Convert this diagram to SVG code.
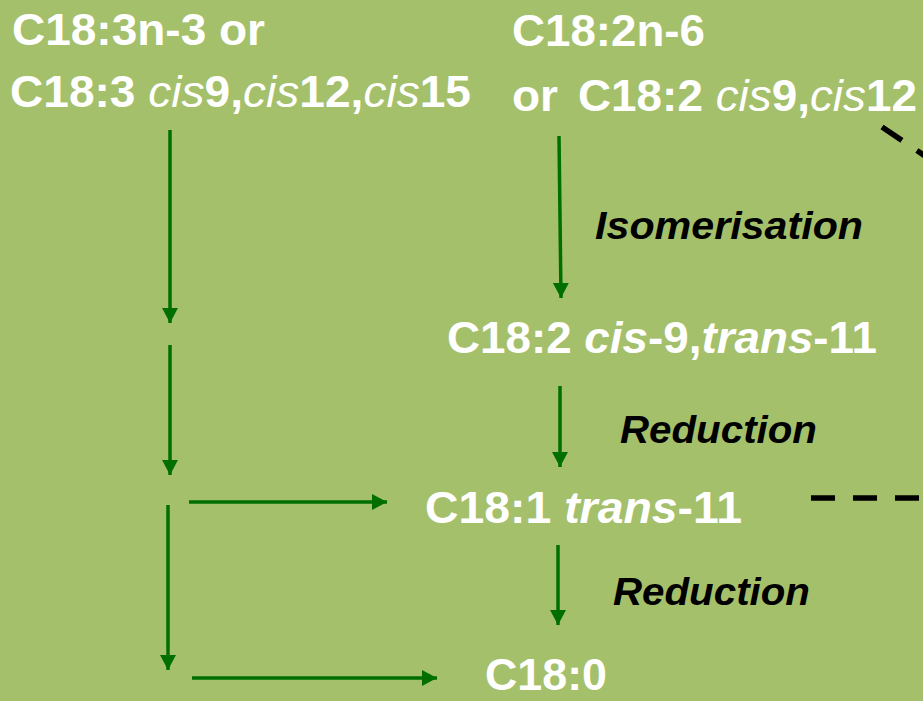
<svg xmlns="http://www.w3.org/2000/svg" width="923" height="701" viewBox="0 0 923 701">
<style>
.w{fill:#fff;font-family:"Liberation Sans",Arial,sans-serif;font-weight:bold;font-size:45px}
.it{font-style:italic}
.nb{font-weight:normal}
.k{fill:#000;font-family:"Liberation Sans",Arial,sans-serif;font-weight:bold;font-style:italic;font-size:39px}
.a{stroke:#006E00;stroke-width:3.5;fill:none;marker-end:url(#ah)}
.d{stroke:#000;stroke-width:5.5;fill:none;stroke-dasharray:24 18}
</style>
<defs>
<marker id="ah" markerUnits="userSpaceOnUse" markerWidth="17" markerHeight="17" refX="15" refY="8" orient="auto" viewBox="0 0 17 17">
<path d="M0,0 L15,8 L0,16 z" fill="#006E00"/>
</marker>
</defs>
<rect width="923" height="701" fill="#A5C06B"/>
<g id="n-c183">
<text class="w" x="12" y="45" textLength="253" lengthAdjust="spacingAndGlyphs">C18:3n-3 or</text>
<text class="w" x="10" y="107" textLength="461" lengthAdjust="spacingAndGlyphs">C18:3 <tspan class="it nb">cis</tspan>9,<tspan class="it nb">cis</tspan>12,<tspan class="it nb">cis</tspan>15</text>
</g>
<g id="n-c182">
<text class="w" x="512" y="46" textLength="193" lengthAdjust="spacingAndGlyphs">C18:2n-6</text>
<text class="w" x="512" y="111" textLength="46" lengthAdjust="spacingAndGlyphs">or</text>
<text class="w" x="578" y="111" textLength="339" lengthAdjust="spacingAndGlyphs">C18:2 <tspan class="it nb">cis</tspan>9,<tspan class="it nb">cis</tspan>12</text>
</g>
<g id="n-cla">
<text class="w" x="447" y="353" textLength="430" lengthAdjust="spacingAndGlyphs">C18:2 <tspan class="it">cis</tspan>-9,<tspan class="it">trans</tspan>-11</text>
</g>
<g id="n-va">
<text class="w" x="425" y="523" textLength="317" lengthAdjust="spacingAndGlyphs">C18:1 <tspan class="it">trans</tspan>-11</text>
</g>
<g id="n-c180">
<text class="w" x="485" y="690" textLength="122" lengthAdjust="spacingAndGlyphs">C18:0</text>
</g>
<g id="labels">
<text class="k" x="595" y="239" textLength="268" lengthAdjust="spacingAndGlyphs">Isomerisation</text>
<text class="k" x="620" y="443" textLength="197" lengthAdjust="spacingAndGlyphs">Reduction</text>
<text class="k" x="613" y="605" textLength="197" lengthAdjust="spacingAndGlyphs">Reduction</text>
</g>
<g id="connectors">
<line class="a" x1="170" y1="130" x2="170" y2="323"/>
<line class="a" x1="170" y1="345" x2="170" y2="475"/>
<line class="a" x1="168" y1="505" x2="168" y2="670"/>
<line class="a" x1="189" y1="502" x2="387" y2="502"/>
<line class="a" x1="192" y1="678" x2="437" y2="678"/>
<line class="a" x1="559" y1="136" x2="561" y2="298"/>
<line class="a" x1="560" y1="386" x2="560" y2="467"/>
<line class="a" x1="558" y1="545" x2="558" y2="625"/>
<line class="d" x1="882" y1="127" x2="940" y2="166"/>
<line class="d" x1="811" y1="498" x2="935" y2="498"/>
</g>
</svg>
